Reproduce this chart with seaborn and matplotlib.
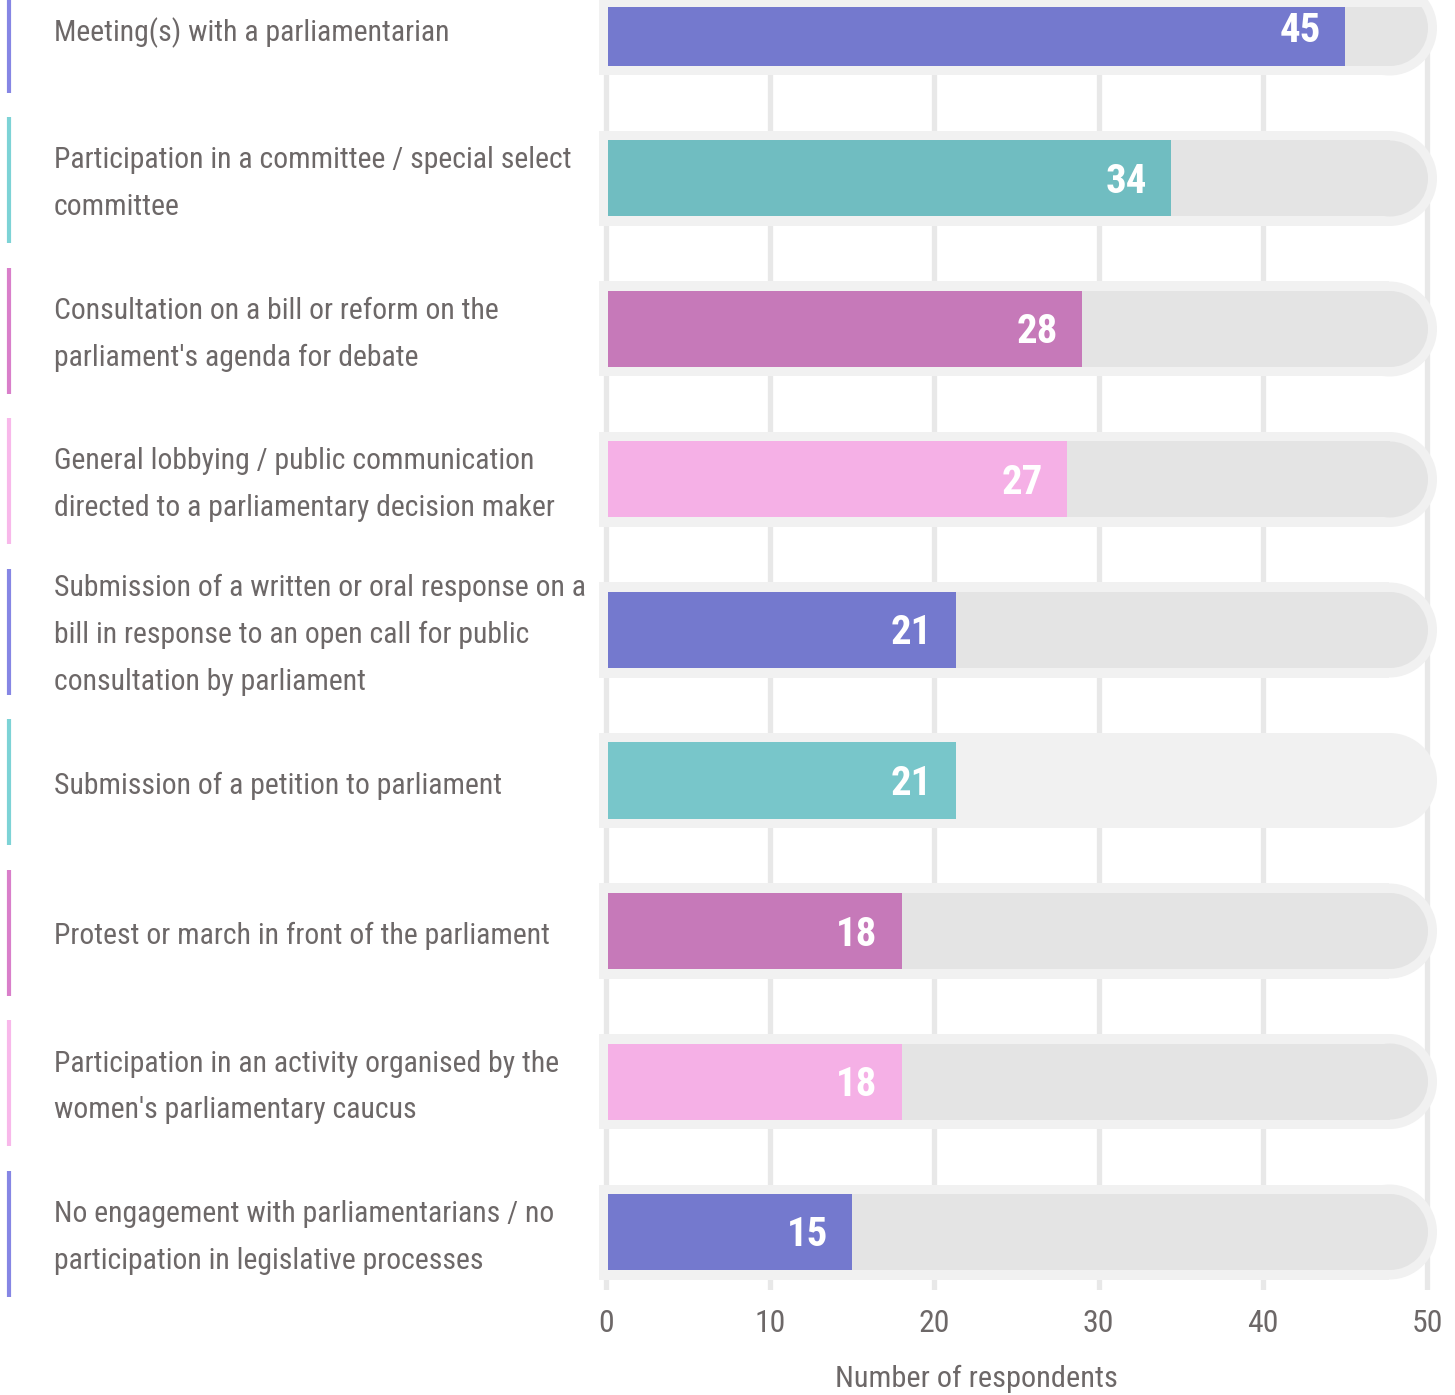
import numpy as np
import pandas as pd
import seaborn as sns
import matplotlib
matplotlib.use("Agg")
import matplotlib.pyplot as plt
from matplotlib import font_manager as fm
from matplotlib.patches import Rectangle, Ellipse
from matplotlib.lines import Line2D
from matplotlib.transforms import blended_transform_factory

# ---------------- data ----------------
categories = [
    "Meeting(s) with a parliamentarian",
    "Participation in a committee / special select\ncommittee",
    "Consultation on a bill or reform on the\nparliament's agenda for debate",
    "General lobbying / public communication\ndirected to a parliamentary decision maker",
    "Submission of a written or oral response on a\nbill in response to an open call for public\nconsultation by parliament",
    "Submission of a petition to parliament",
    "Protest or march in front of the parliament",
    "Participation in an activity organised by the\nwomen's parliamentary caucus",
    "No engagement with parliamentarians / no\nparticipation in legislative processes",
]
bar_values = [45.0, 34.4, 29.0, 28.1, 21.3, 21.3, 18.0, 18.0, 15.0]
value_labels = ["45", "34", "28", "27", "21", "21", "18", "18", "15"]
x_ticks = [0, 10, 20, 30, 40, 50]
x_max = 50
axis_title = "Number of respondents"

bar_colors = ["#7479ce", "#70bdc1", "#c679b9", "#f5b0e6", "#7479ce",
              "#78c6ca", "#c679b9", "#f5b0e6", "#7479ce"]
marker_colors = ["#8686e4", "#7dd3d6", "#d97fca", "#f8b8ea", "#8686e4",
                 "#7dd3d6", "#d97fca", "#f8b8ea", "#8686e4"]
track_colors = ["#e4e4e4"] * 9
track_colors[5] = "#f1f1f1"

# ---------------- fonts ----------------
sns.set_theme(style="white")


def pick_font():
    ents = fm.fontManager.ttflist
    names = {f.name for f in ents}
    for nm in ["Liberation Sans Narrow", "Roboto Condensed", "Open Sans Condensed",
               "Noto Sans Condensed", "Noto Sans Display Condensed"]:
        if nm in names:
            return nm, "normal"
    order = ["condensed", "semi-condensed", "extra-condensed", "ultra-condensed"]
    for st in order:
        for nm in ["Noto Sans", "Roboto", "Open Sans", "Inter", "Lato", "DejaVu Sans"]:
            for f in ents:
                if f.name == nm and str(f.stretch) == st:
                    return nm, st
    return "DejaVu Sans", "condensed"


FAM, STRETCH = pick_font()
plt.rcParams["font.family"] = [FAM, "DejaVu Sans"]
TXT = "#6d6868"

# ---------------- layout ----------------
W, H = 1455, 1395
fig = plt.figure(figsize=(W / 100, H / 100), dpi=100)
renderer = fig.canvas.get_renderer()


def text_w(s, size, weight="normal"):
    t = fig.text(0, 0, s, fontsize=size, fontweight=weight, fontstretch=STRETCH,
                 family=[FAM, "DejaVu Sans"])
    w = t.get_window_extent(renderer).width
    t.remove()
    return w


ax_left_px, ax_right_px = 599, 1440
ax_top_px, ax_bot_px = 7, 1290
ax = fig.add_axes([ax_left_px / W, 1 - ax_bot_px / H,
                   (ax_right_px - ax_left_px) / W, (ax_bot_px - ax_top_px) / H])

x0_px, x50_px = 606, 1427
xs = (x50_px - x0_px) / x_max          # px per unit
row0_px, row_step = 28, 150.5          # px
ys = row_step                          # px per unit
xlim = (-(x0_px - ax_left_px) / xs, x_max + (ax_right_px - x50_px) / xs)
ylim = ((ax_bot_px - row0_px) / ys, -(row0_px - ax_top_px) / ys)

n = len(categories)

# font sizes fitted to the reference text sizes
lab_size = min(20 * 532 / text_w("Submission of a written or oral response on a", 20), 28)
val_size = min(0.5 * (20 * 42 / text_w("45", 20, "bold")) + 0.5 * 29, 30)
tick_size = min(0.4 * (20 * 27 / text_w("10", 20)) + 0.6 * 25, 26)
title_size = min(20 * 282 / text_w(axis_title, 20), 26)

# grid lines
for t in x_ticks:
    ax.plot([t, t], [ylim[1] - 1, ylim[0]], color="#e8e8e8", lw=3.8,
            zorder=0, solid_capstyle="butt")


def pill(ax, xa, xb, yc, h_units, r_px, color, z, clip=True):
    rx = r_px / xs
    ax.add_patch(Rectangle((xa, yc - h_units / 2), (xb - rx) - xa, h_units,
                           facecolor=color, edgecolor="none", zorder=z, clip_on=clip))
    ax.add_patch(Ellipse((xb - rx, yc), 2 * rx, h_units,
                         facecolor=color, edgecolor="none", zorder=z, clip_on=clip))


outer_h, inner_h = 95 / ys, 76 / ys
for i in range(n):
    pill(ax, (599 - x0_px) / xs, (1437 - x0_px) / xs, i, outer_h, 47.5, "#f1f1f1", 1,
         clip=False)
    pill(ax, (608 - x0_px) / xs, (1428 - x0_px) / xs, i, inner_h, 38, track_colors[i], 2)

df = pd.DataFrame({"category": categories, "value": bar_values})
sns.barplot(data=df, x="value", y="category", hue="category",
            palette=bar_colors, orient="h", width=inner_h, legend=False,
            saturation=1, ax=ax)
for bar in ax.containers:
    for p in bar:
        p.set_zorder(3)
        p.set_edgecolor("none")
        p.set_x(p.get_x() + 2 / xs)
        p.set_width(p.get_width() - 2 / xs)

for i, (v, lab) in enumerate(zip(bar_values, value_labels)):
    ax.text(v - 24 / xs, i + 14.5 / ys, lab, ha="right", va="baseline",
            color="white", fontsize=val_size, fontweight="bold",
            fontstretch=STRETCH, zorder=4)

ax.set_xlim(*xlim)
ax.set_ylim(*ylim)
ax.set_yticks([])
ax.set_ylabel("")
ax.set_xlabel("")
ax.set_xticks(x_ticks)
ax.set_xticklabels([str(t) for t in x_ticks], fontstretch=STRETCH)
ax.tick_params(axis="x", length=0, pad=14, labelsize=tick_size, labelcolor=TXT)
for s in ax.spines.values():
    s.set_visible(False)
ax.grid(False)

# left labels and markers
tr = blended_transform_factory(fig.transFigure, ax.transData)
mark_len = 126 / ys
line_gap = 47 / ys
cap_half = 13.5 / ys
for i, cat in enumerate(categories):
    lines = cat.split("\n")
    k = len(lines)
    for j, line in enumerate(lines):
        yc = i + (j - (k - 1) / 2) * line_gap
        ax.text(54 / W, yc + cap_half, line, transform=tr, ha="left", va="baseline",
                fontsize=lab_size, color=TXT, fontstretch=STRETCH, clip_on=False)
    ln = Line2D([9 / W, 9 / W], [i - mark_len / 2 + 0.01, i + mark_len / 2 + 0.01],
                transform=tr, color=marker_colors[i], lw=3, solid_capstyle="butt",
                clip_on=False)
    ax.add_line(ln)

fig.text(976 / W, 1 - 1387 / H, axis_title, ha="center", va="baseline",
         fontsize=title_size, color=TXT, fontstretch=STRETCH)

fig.savefig("out.png", dpi=100, facecolor="white")
